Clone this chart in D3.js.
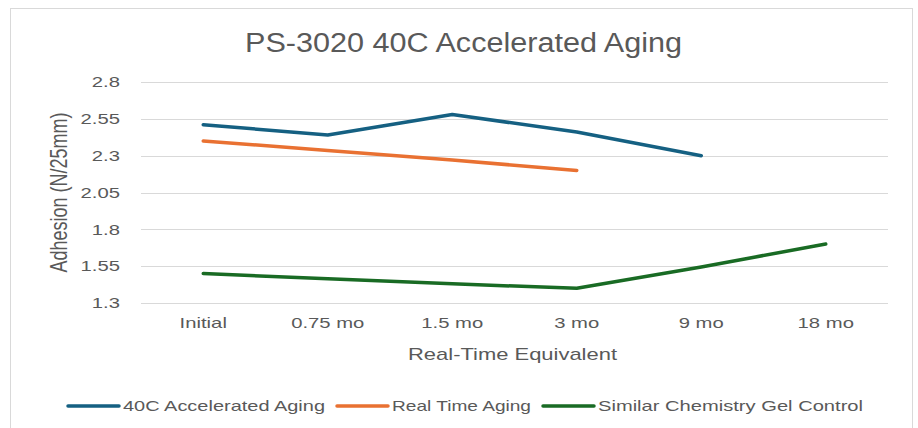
<!DOCTYPE html>
<html>
<head>
<meta charset="utf-8">
<script src="https://cdn.jsdelivr.net/npm/d3@7"></script>
<style>
  html, body { margin: 0; padding: 0; background: #fff; }
  svg { display: block; }
</style>
</head>
<body>
<svg id="chart" width="918" height="428"></svg>
<script>
const categories = ["Initial", "0.75 mo", "1.5 mo", "3 mo", "9 mo", "18 mo"];
const yTicks = [1.3, 1.55, 1.8, 2.05, 2.3, 2.55, 2.8];
const seriesNames = ["40C Accelerated Aging", "Real Time Aging", "Similar Chemistry Gel Control"];
const acceleratedValues = [2.51, 2.44, 2.58, 2.46, 2.30, null];
const realTimeValues = [2.40, 2.335, 2.27, 2.20, null, null];
const controlValues = [1.50, 1.465, 1.43, 1.40, 1.545, 1.70];
const seriesColors = ["#156082", "#E97132", "#196B24"];

(function () {
const svg = d3.select("#chart");
const font = "'Liberation Sans', Arial, sans-serif";
const textColor = "#595959";

// horizontally widen text (the reference is rendered with wide glyphs)
function widen(sel, factor) {
  sel.each(function () {
    const w = this.getComputedTextLength();
    d3.select(this).attr("textLength", w * factor).attr("lengthAdjust", "spacingAndGlyphs");
  });
}
function fitWidth(sel, width) {
  sel.attr("textLength", width).attr("lengthAdjust", "spacingAndGlyphs");
}

svg.append("rect").attr("x", 10.5).attr("y", 8.5).attr("width", 902).attr("height", 430)
  .attr("fill", "#fff").attr("stroke", "#d9d9d9").attr("stroke-width", 1);

const pLeft = 141, pRight = 888, pTop = 82, pBottom = 303;
const x = d3.scaleBand().domain(categories).range([pLeft, pRight]);
const y = d3.scaleLinear().domain([1.3, 2.8]).range([pBottom, pTop]);

svg.append("g").selectAll("line").data(yTicks).join("line")
  .attr("x1", pLeft).attr("x2", pRight)
  .attr("y1", d => Math.round(y(d)) + 0.5).attr("y2", d => Math.round(y(d)) + 0.5)
  .attr("stroke", "#d9d9d9").attr("stroke-width", 1);

const yAxis = d3.axisLeft(y).tickValues(yTicks).tickFormat(d => String(d)).tickSize(0).tickPadding(21);
const yg = svg.append("g").attr("transform", `translate(${pLeft},0)`).call(yAxis);
yg.select(".domain").remove();
yg.selectAll("text").attr("font-family", font).attr("font-size", 15).attr("fill", textColor);
widen(yg.selectAll("text"), 1.35);

const xAxis = d3.axisBottom(x).tickSize(0).tickPadding(14);
const xg = svg.append("g").attr("transform", `translate(0,${pBottom})`).call(xAxis);
xg.select(".domain").remove();
xg.selectAll("text").attr("font-family", font).attr("font-size", 15).attr("fill", textColor);
widen(xg.selectAll("text"), 1.35);

const title = svg.append("text").attr("x", 463.5).attr("y", 52).attr("text-anchor", "middle")
  .attr("font-family", font).attr("font-size", 27).attr("fill", textColor)
  .text("PS-3020 40C Accelerated Aging");
fitWidth(title, 437);

const xTitle = svg.append("text").attr("x", 512.5).attr("y", 360).attr("text-anchor", "middle")
  .attr("font-family", font).attr("font-size", 17).attr("fill", textColor)
  .text("Real-Time Equivalent");
fitWidth(xTitle, 209);

svg.append("text").attr("transform", `translate(67,192.5) scale(1.3,1) rotate(-90)`)
  .attr("text-anchor", "middle")
  .attr("font-family", font).attr("font-size", 18).attr("fill", textColor)
  .text("Adhesion (N/25mm)");

const allSeries = [acceleratedValues, realTimeValues, controlValues];
const line = d3.line()
  .defined(d => d.v != null)
  .x(d => x(d.c) + x.bandwidth() / 2)
  .y(d => y(d.v));
allSeries.forEach((vals, i) => {
  const pts = categories.map((c, j) => ({ c, v: vals[j] }));
  svg.append("path").datum(pts).attr("d", line)
    .attr("fill", "none").attr("stroke", seriesColors[i]).attr("stroke-width", 3.5)
    .attr("stroke-linecap", "round").attr("stroke-linejoin", "round");
});

const legendItems = [
  { x: 68, w: 202, name: seriesNames[0], color: seriesColors[0] },
  { x: 337, w: 139, name: seriesNames[1], color: seriesColors[1] },
  { x: 543, w: 265, name: seriesNames[2], color: seriesColors[2] }
];
const lg = svg.append("g");
legendItems.forEach(it => {
  lg.append("line").attr("x1", it.x).attr("x2", it.x + 51).attr("y1", 406).attr("y2", 406)
    .attr("stroke", it.color).attr("stroke-width", 3.5).attr("stroke-linecap", "round");
  const t = lg.append("text").attr("x", it.x + 55).attr("y", 411)
    .attr("font-family", font).attr("font-size", 15).attr("fill", textColor)
    .text(it.name);
  fitWidth(t, it.w);
});
})();
</script>
</body>
</html>
